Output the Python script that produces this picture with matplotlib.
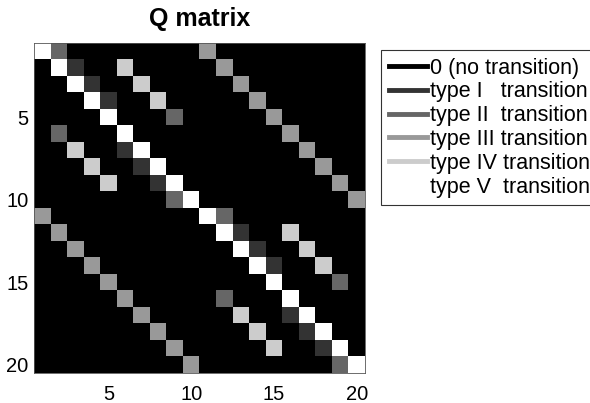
import numpy as np
import matplotlib
matplotlib.use("Agg")
import matplotlib.pyplot as plt
from matplotlib.lines import Line2D

# Q matrix rows (values 0..5 = transition type)
q_rows = [
    "52000000003000000000",
    "05100400000300000000",
    "00510040000030000000",
    "00051004000003000000",
    "00005000200000300000",
    "02000500000000030000",
    "00400150000000003000",
    "00040015000000000300",
    "00004001500000000030",
    "00000000250000000003",
    "30000000005200000000",
    "03000000000510040000",
    "00300000000051004000",
    "00030000000005100400",
    "00003000000000500020",
    "00000300000200050000",
    "00000030000040015000",
    "00000003000004001500",
    "00000000300000400150",
    "00000000030000000025",
]
Q = np.array([[int(c) for c in r] for r in q_rows])

legend_labels = ["0 (no transition)", "type I   transition", "type II  transition",
                 "type III transition", "type IV transition", "type V  transition"]
legend_levels = [0, 1, 2, 3, 4, 5]
ticks = [5, 10, 15, 20]

plt.rcParams['font.family'] = ['Liberation Sans', 'DejaVu Sans']

fig = plt.figure(figsize=(5.9, 4.03), dpi=100)
ax = fig.add_axes([34/590, 1-373/403, 331/590, 330/403])
ax.imshow(Q, cmap='gray', vmin=0, vmax=5, interpolation='nearest',
          extent=[0.5, 20.5, 20.5, 0.5], aspect='auto')
ax.set_xticks(ticks)
ax.set_yticks(ticks)
ax.tick_params(length=0, labelsize=14.5, pad=4)
ax.tick_params(axis='x', pad=9)
for s in ax.spines.values():
    s.set_color('#555555')
    s.set_linewidth(0.6)
ax.set_title("Q matrix", fontsize=18, fontweight='bold', pad=12)

cmap = plt.get_cmap('gray')
handles = [Line2D([0], [0], color=cmap(l/5), lw=3.5) for l in legend_levels]
leg = fig.legend(handles, legend_labels, loc='upper left',
                 bbox_to_anchor=(381/590, 1-50/403), fontsize=15.5,
                 frameon=True, fancybox=False, handlelength=1.8,
                 handletextpad=0.12, labelspacing=0.13, borderpad=0.35,
                 borderaxespad=0)
leg.get_frame().set_edgecolor('black')
leg.get_frame().set_linewidth(0.8)

fig.savefig("out.png", dpi=100)
